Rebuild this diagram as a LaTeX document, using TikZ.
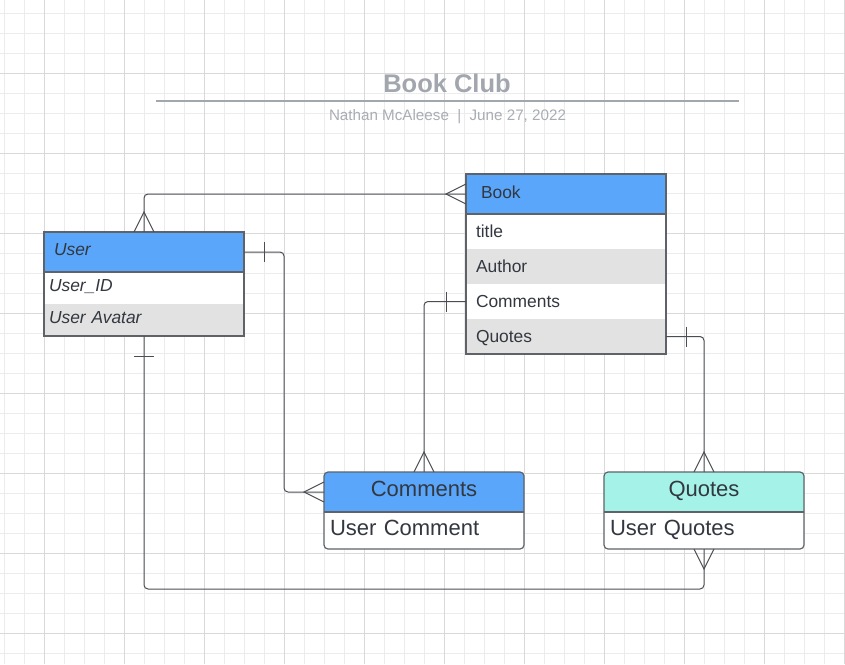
\documentclass[tikz,border=0pt]{standalone}
\usepackage{fontspec}
\setmainfont{Liberation Sans}
\usetikzlibrary{calc}
\definecolor{gridminor}{HTML}{ECECEC}
\definecolor{gridmajor}{HTML}{D9D9D9}
\definecolor{hdrblue}{HTML}{59A6FA}
\definecolor{hdrteal}{HTML}{A5F3E8}
\definecolor{rowgrey}{HTML}{E2E2E2}
\definecolor{edgecol}{HTML}{5F6368}
\definecolor{wire}{HTML}{4A4E54}
\definecolor{ink}{HTML}{333840}
\definecolor{titlegrey}{HTML}{A2A6AE}
\definecolor{subgrey}{HTML}{A9ADB4}
\begin{document}
\begin{tikzpicture}[x=1pt,y=-1pt,
  ercell/.style={inner xsep=5pt, inner ysep=0pt, outer sep=0pt, text width=190pt,
    align=left, anchor=north west, text=ink, font=\fontsize{17.4}{20}\selectfont,
    text height=12.5pt, text depth=1pt},
  bigcell/.style={ercell, font=\fontsize{22}{26}\selectfont, text height=15.75pt, text depth=6pt},
  wirestyle/.style={draw=wire, line width=1pt, rounded corners=4pt},
  markstyle/.style={draw=wire, line width=1pt},
  boxedge/.style={draw=edgecol, line width=1.2pt}]
\useasboundingbox (0,0) rectangle (845,664);
\fill[white] (0,0) rectangle (845,664);
% grid
\foreach \i in {0,...,42} \draw[gridminor, line width=0.8pt] ({4.3+20*\i},0) -- ({4.3+20*\i},664);
\foreach \j in {0,...,32} \draw[gridminor, line width=0.8pt] (0,{13.3+20*\j}) -- (845,{13.3+20*\j});
\foreach \i in {0,...,10} \draw[gridmajor, line width=0.9pt] ({44.3+80*\i},0) -- ({44.3+80*\i},664);
\foreach \j in {0,...,7} \draw[gridmajor, line width=0.9pt] (0,{73.3+80*\j}) -- (845,{73.3+80*\j});

% title
\node[font=\bfseries\fontsize{25.5}{30}\selectfont, text=titlegrey] (title) at (447,83) {Book Club};
\coordinate (rulel) at (156,101);
\coordinate (ruler) at (739,101);
\draw[titlegrey, line width=2pt] (rulel) -- (ruler);
\node[font=\fontsize{15.2}{18}\selectfont, text=subgrey] (sub) at (447.5,116.5) {Nathan McAleese\hspace{0.55em}|\hspace{0.55em}June 27, 2022};

% User table
\node[ercell, fill=hdrblue, minimum height=40pt, inner xsep=10pt, text width=180pt,
  font=\fontsize{17.4}{20}\selectfont\itshape, text depth=5.5pt] (uh) at (44,232) {User};
\node[ercell, fill=white, minimum height=32pt, font=\fontsize{17.4}{20}\selectfont\itshape, text depth=5pt] (u1) at (uh.south west) {User\_ID};
\node[ercell, fill=rowgrey, minimum height=32pt, font=\fontsize{17.4}{20}\selectfont\itshape, text depth=5pt] (u2) at (u1.south west) {User Avatar};
\draw[boxedge] (uh.north west) rectangle (u2.south east);
\draw[boxedge] (uh.south west) -- (uh.south east);

% Book table
\node[ercell, fill=hdrblue, minimum height=40pt, inner xsep=15pt, text width=170pt, text depth=3pt] (bh) at (466,174) {Book};
\node[ercell, fill=white, minimum height=35pt, inner xsep=10pt, text width=180pt] (b1) at (bh.south west) {title};
\node[ercell, fill=rowgrey, minimum height=35pt, inner xsep=10pt, text width=180pt] (b2) at (b1.south west) {Author};
\node[ercell, fill=white, minimum height=35pt, inner xsep=10pt, text width=180pt] (b3) at (b2.south west) {Comments};
\node[ercell, fill=rowgrey, minimum height=35pt, inner xsep=10pt, text width=180pt] (b4) at (b3.south west) {Quotes};
\draw[boxedge] (bh.north west) rectangle (b4.south east);
\draw[boxedge] (bh.south west) -- (bh.south east);

% Comments box
\fill[white, rounded corners=4pt] (324,472) rectangle (524,549);
\fill[hdrblue, rounded corners=4pt] (324,472) rectangle (524,512);
\fill[hdrblue] (324,492) rectangle (524,512);
\node[bigcell, minimum height=40pt, align=center] (ch) at (324,472) {Comments};
\node[bigcell, minimum height=37pt, inner xsep=6pt, text width=188pt] (cb) at (ch.south west) {User Comment};
\draw[boxedge, rounded corners=4pt] (ch.north west) rectangle (cb.south east);
\draw[boxedge] (ch.south west) -- (ch.south east);

% Quotes box
\fill[white, rounded corners=4pt] (604,472) rectangle (804,549);
\fill[hdrteal, rounded corners=4pt] (604,472) rectangle (804,512);
\fill[hdrteal] (604,492) rectangle (804,512);
\node[bigcell, minimum height=40pt, align=center] (qh) at (604,472) {Quotes};
\node[bigcell, minimum height=37pt, inner xsep=6pt, text width=188pt] (qb) at (qh.south west) {User Quotes};
\draw[boxedge, rounded corners=4pt] (qh.north west) rectangle (qb.south east);
\draw[boxedge] (qh.south west) -- (qh.south east);

% connector 1: User -- Book (many to many)
\draw[wirestyle] (uh.north) |- (bh.west);
\draw[markstyle] ($(uh.north)+(-10,0)$) -- ($(uh.north)+(0,-20)$) -- ($(uh.north)+(10,0)$);
\draw[markstyle] ($(bh.west)+(0,-10)$) -- ($(bh.west)+(-20,0)$) -- ($(bh.west)+(0,10)$);

% connector 2: User -- Comments
\draw[wirestyle] (uh.east) -- ++(40,0) |- (ch.west);
\draw[markstyle] ($(uh.east)+(20,-10)$) -- ($(uh.east)+(20,10)$);
\draw[markstyle] ($(ch.west)+(0,-10)$) -- ($(ch.west)+(-20,0)$) -- ($(ch.west)+(0,10)$);

% connector 3: Book.Comments -- Comments
\draw[wirestyle] (b3.west) -| (ch.north);
\draw[markstyle] ($(b3.west)+(-20,-10)$) -- ($(b3.west)+(-20,10)$);
\draw[markstyle] ($(ch.north)+(-10,0)$) -- ($(ch.north)+(0,-20)$) -- ($(ch.north)+(10,0)$);

% connector 4: Book.Quotes -- Quotes
\draw[wirestyle] (b4.east) -| (qh.north);
\draw[markstyle] ($(b4.east)+(20,-10)$) -- ($(b4.east)+(20,10)$);
\draw[markstyle] ($(qh.north)+(-10,0)$) -- ($(qh.north)+(0,-20)$) -- ($(qh.north)+(10,0)$);

% connector 5: User -- Quotes
\coordinate (qlow) at ($(qb.south)+(0,40)$);
\draw[wirestyle] (u2.south) |- (qlow) -- (qb.south);
\draw[markstyle] ($(u2.south)+(-10,20)$) -- ($(u2.south)+(10,20)$);
\draw[markstyle] ($(qb.south)+(-10,0)$) -- ($(qb.south)+(0,20)$) -- ($(qb.south)+(10,0)$);
\end{tikzpicture}
\end{document}
